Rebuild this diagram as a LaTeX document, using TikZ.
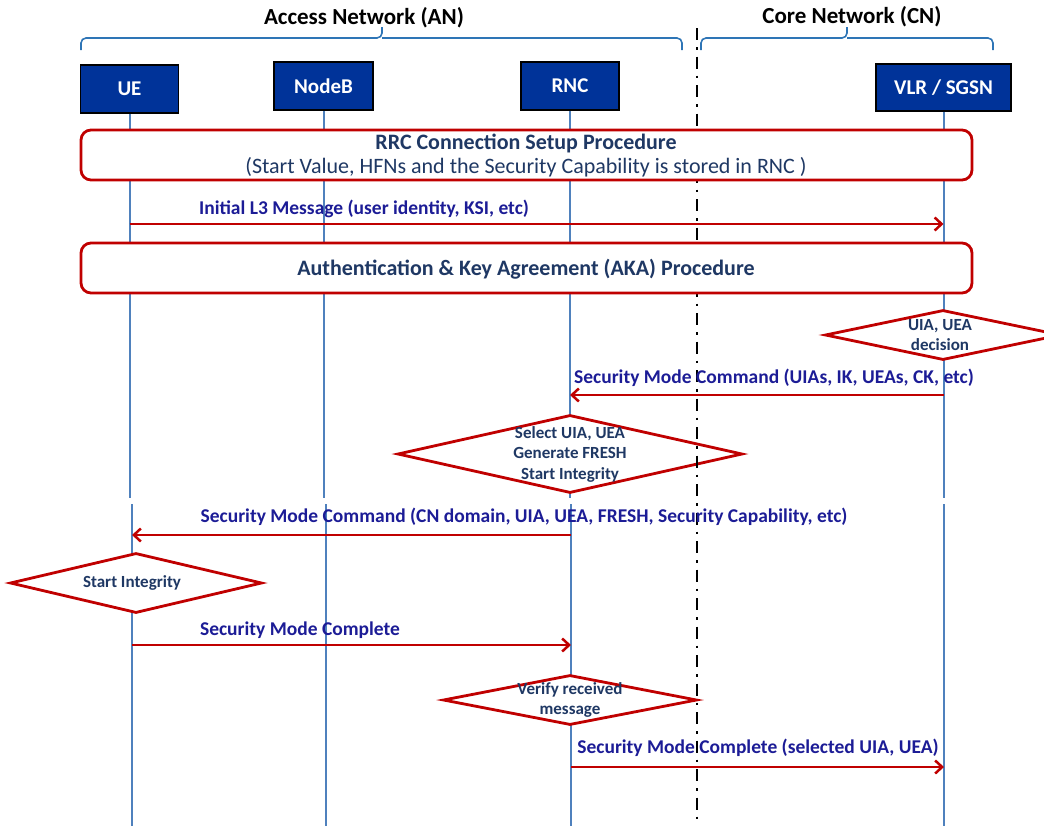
\documentclass[tikz,border=0pt]{standalone}
\usepackage{fontspec}
\setmainfont{Carlito}
\usetikzlibrary{shapes.geometric,arrows.meta}
\definecolor{hdrblue}{RGB}{0,51,153}
\definecolor{lifeblue}{RGB}{79,129,189}
\definecolor{braceblue}{RGB}{46,117,182}
\definecolor{procred}{RGB}{192,0,0}
\definecolor{navytext}{RGB}{31,56,100}
\definecolor{msgtext}{RGB}{28,28,150}
\tikzset{
  hdr/.style={draw=black, line width=1.6pt, fill=hdrblue, text=white,
    font=\fontsize{21}{24}\selectfont\bfseries, inner sep=0pt},
  life/.style={draw=lifeblue, line width=2pt},
  border/.style={draw=black, line width=2.6pt, dash pattern=on 12pt off 7pt on 2.5pt off 7pt},
  brace/.style={draw=braceblue, line width=1.6pt, rounded corners=5pt},
  proc/.style={draw=procred, line width=2.8pt, fill=white, rounded corners=10pt,
    inner sep=0pt},
  proctext/.style={text=navytext, align=center, inner sep=0pt},
  dia/.style={shape=diamond, draw=procred, line width=2.8pt, fill=white, inner sep=0pt},
  diatext/.style={text=navytext, align=center, inner sep=0pt,
    font=\fontsize{17}{20.5}\selectfont\bfseries},
  msg/.style={draw=procred, line width=2.5pt,
    -{Straight Barb[length=7pt,width=13pt,line width=2.5pt]}},
  lbl/.style={text=msgtext, inner sep=0pt, font=\fontsize{19.5}{22}\selectfont\bfseries},
  title/.style={text=black, inner sep=0pt, font=\fontsize{23}{26}\selectfont\bfseries}
}
\begin{document}
\begin{tikzpicture}[x=1pt,y=-1pt]
\useasboundingbox (0,0) rectangle (1044,825);

% domain titles and braces
\node[title] (anTitle) at (364,18) {Access Network (AN)};
\node[title] (cnTitle) at (852,17) {Core Network (CN)};
\draw[brace] (81,50) |- (382,38) -- (382,27);
\draw[brace] (382,38) -| (682,50);
\draw[brace] (701,50) |- (847,38) -- (847,27);
\draw[brace] (847,38) -| (993,50);

% entity boxes
\node[hdr, minimum width=98, minimum height=48] (ue) at (129.5,89) {UE};
\node[hdr, minimum width=99, minimum height=48] (nodeb) at (323.5,86) {NodeB};
\node[hdr, minimum width=98, minimum height=48] (rnc) at (570,86) {RNC};
\node[hdr, minimum width=135, minimum height=47] (vlr) at (943.5,87.5) {VLR / SGSN};

% reference levels
\coordinate (brkA) at (0,498);
\coordinate (brkB) at (0,504);
\coordinate (bottom) at (0,826);
\coordinate (ueLow) at (132,0);
\coordinate (nodebLow) at (326,0);
\coordinate (rncLow) at (571,0);
\coordinate (vlrLow) at (944,0);

% lifelines (two segments each)
\draw[life] (ue.south) -- (ue.south |- brkA);
\draw[life] (nodeb.south) -- (nodeb.south |- brkA);
\draw[life] (rnc.south) -- (rnc.south |- brkA);
\draw[life] (vlr.south) -- (vlr.south |- brkA);
\draw[life] (ueLow |- brkB) -- (ueLow |- bottom);
\draw[life] (nodebLow |- brkB) -- (nodebLow |- bottom);
\draw[life] (rncLow |- brkB) -- (rncLow |- bottom);
\draw[life] (vlrLow |- brkB) -- (vlrLow |- bottom);

% decision diamonds
\node[dia, minimum width=236, minimum height=50] (decide) at (943,335) {};
\node[diatext] at (940,335) {UIA, UEA\\decision};
\node[dia, minimum width=345, minimum height=78] (select) at (570,454) {};
\node[diatext] at (select) {Select UIA, UEA\\Generate FRESH\\Start Integrity};
\node[dia, minimum width=252, minimum height=60] (startint) at (136,583) {};
\node[diatext] at (132,583) {Start Integrity};
\node[dia, minimum width=254, minimum height=50] (verify) at (570,700) {};
\node[diatext] at (verify) {Verify received\\message};

% AN / CN border
\coordinate (borderTop) at (697,28);
\draw[border] (borderTop) -- (borderTop |- bottom);

% procedure boxes
\node[proc, minimum width=891, minimum height=50] (rrc) at (526.5,155) {};
\node[proctext, font=\fontsize{22}{25}\selectfont\bfseries] at (526,143) {RRC Connection Setup Procedure};
\node[proctext, font=\fontsize{22}{25}\selectfont] at (526,167) {(Start Value, HFNs and the Security Capability is stored in RNC )};
\node[proc, minimum width=891, minimum height=50] (aka) at (526.5,268) {};
\node[proctext, font=\fontsize{22}{25}\selectfont\bfseries] at (526,269) {Authentication \& Key Agreement (AKA) Procedure};

% message levels
\coordinate (m1) at (0,224);
\coordinate (m2) at (0,395);
\coordinate (m3) at (0,535);
\coordinate (m4) at (0,645);
\coordinate (m5) at (0,767);

% messages
\draw[msg] (ue.south |- m1) -- (vlr.south |- m1);
\node[lbl] at (364,209) {Initial L3 Message (user identity, KSI, etc)};
\draw[msg] (vlr.south |- m2) -- (rnc.south |- m2);
\node[lbl] at (774,378) {Security Mode Command (UIAs, IK, UEAs, CK, etc)};
\draw[msg] (rncLow |- m3) -- (ueLow |- m3);
\node[lbl] at (524,517) {Security Mode Command (CN domain, UIA, UEA, FRESH, Security Capability, etc)};
\draw[msg] (ueLow |- m4) -- (rncLow |- m4);
\node[lbl] at (300,630) {Security Mode Complete};
\draw[msg] (rncLow |- m5) -- (vlrLow |- m5);
\node[lbl] at (758,748) {Security Mode Complete (selected UIA, UEA)};
\end{tikzpicture}
\end{document}
